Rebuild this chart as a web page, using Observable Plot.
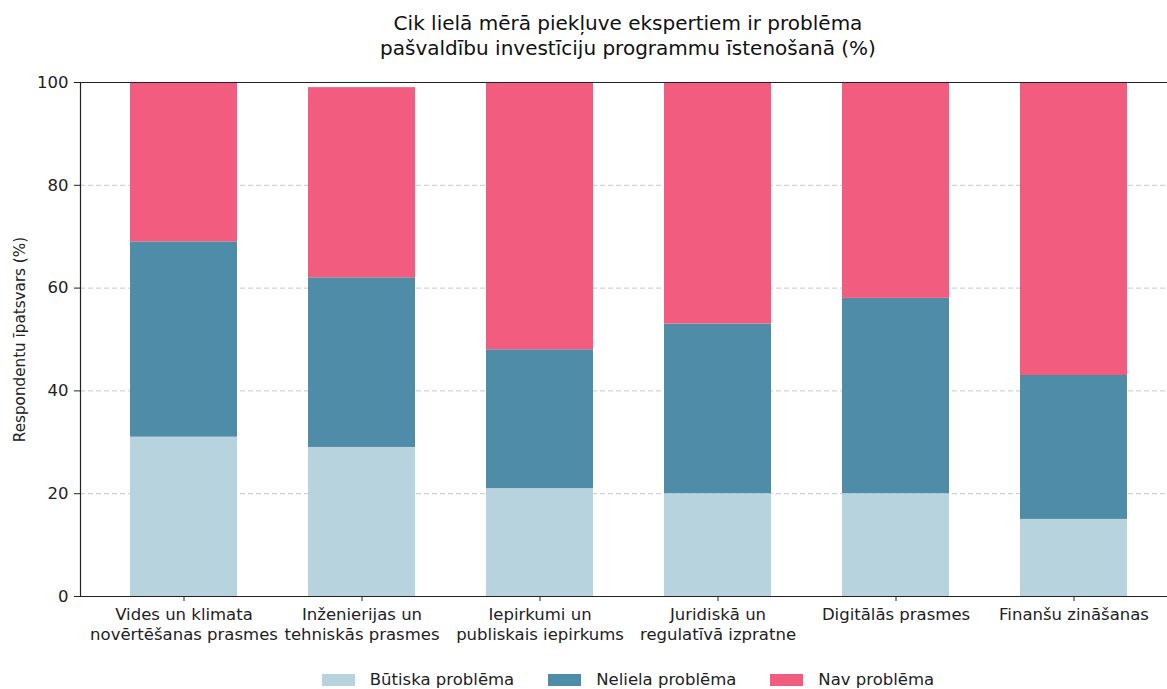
<!DOCTYPE html>
<html>
<head>
<meta charset="utf-8">
<script src="https://cdn.jsdelivr.net/npm/d3@7"></script>
<script src="https://cdn.jsdelivr.net/npm/@observablehq/plot@0.6"></script>
<style>
  html, body { margin: 0; padding: 0; background: #fff; overflow: hidden; width: 1167px; height: 689px; }
  body { font-family: "DejaVu Sans", sans-serif; color: #222; }
  #title { width: 1256px; height: 68px; box-sizing: border-box; padding-top: 11px; text-align: center; font-size: 20px; line-height: 25px; color: #111; }
  #legend { width: 1256px; height: 29px; margin-top: 5px; display: flex; justify-content: center; align-items: center; font-size: 16.5px; color: #222; }
  .item { display: flex; align-items: center; margin: 0 17px; }
  .sw { width: 33px; height: 12px; margin-right: 15px; }
  svg { display: block; }
</style>
</head>
<body>
<div id="title">Cik lielā mērā piekļuve ekspertiem ir problēma<br>pašvaldību investīciju programmu īstenošanā (%)</div>
<div id="chart"></div>
<div id="legend"></div>
<script>
const skills = ["Vides", "Inženierijas", "Iepirkumi", "Juridiskā", "Digitālās", "Finanšu"];
const skillLabels = [
  "Vides un klimata\nnovērtēšanas prasmes",
  "Inženierijas un\ntehniskās prasmes",
  "Iepirkumi un\npubliskais iepirkums",
  "Juridiskā un\nregulatīvā izpratne",
  "Digitālās prasmes",
  "Finanšu zināšanas"
];
const levels = ["Būtiska problēma", "Neliela problēma", "Nav problēma"];
const colors = ["#b7d4de", "#4f8ca8", "#f25c7e"];
const butiska = [31, 29, 21, 20, 20, 15];
const neliela = [38, 33, 27, 33, 38, 28];
const nav = [31, 37, 52, 47, 42, 57];
const yTicks = [0, 20, 40, 60, 80, 100];
const yLabel = "Respondentu īpatsvars (%)";

const series = [butiska, neliela, nav];
const data = [];
levels.forEach((lvl, j) => skills.forEach((s, i) => data.push({skill: s, level: lvl, value: series[j][i]})));
const labelOf = new Map(skills.map((s, i) => [s, skillLabels[i]]));

const plot = Plot.plot({
  width: 1167,
  height: 592,
  marginTop: 14,
  marginBottom: 64,
  marginLeft: 80,
  marginRight: 0,
  style: {fontFamily: "DejaVu Sans, sans-serif", fontSize: "16.5px", color: "#222", background: "#fff"},
  x: {domain: skills, range: [80, 1176], paddingInner: 0.4, paddingOuter: 0.2785, label: null},
  y: {domain: [0, 100], label: null},
  color: {domain: levels, range: colors},
  marks: [
    Plot.gridY(yTicks.filter(d => d > 0 && d < 100), {stroke: "#b0b0b0", strokeOpacity: 0.7, strokeDasharray: "5,3"}),
    Plot.barY(data, {x: "skill", y: "value", fill: "level"}),
    Plot.ruleY([0, 100], {stroke: "#222", strokeWidth: 1.2}),
    Plot.frame({anchor: "left", stroke: "#222", strokeWidth: 1.2}),
    Plot.axisY(yTicks, {tickSize: 6, tickPadding: 6, fontSize: 16.5, label: null}),
    Plot.axisY([], {tickSize: 0, fontSize: 15.2, label: yLabel, labelAnchor: "center", labelArrow: "none", labelOffset: 66}),
    Plot.axisX({tickSize: 5, tickPadding: 4, fontSize: 16.5, lineHeight: 1.22, tickFormat: d => labelOf.get(d), label: null})
  ]
});
document.getElementById("chart").appendChild(plot);

const legend = document.getElementById("legend");
levels.forEach((lvl, j) => {
  const it = document.createElement("div");
  it.className = "item";
  const sw = document.createElement("div");
  sw.className = "sw";
  sw.style.background = colors[j];
  const t = document.createElement("span");
  t.textContent = lvl;
  it.appendChild(sw);
  it.appendChild(t);
  legend.appendChild(it);
});
</script>
</body>
</html>
